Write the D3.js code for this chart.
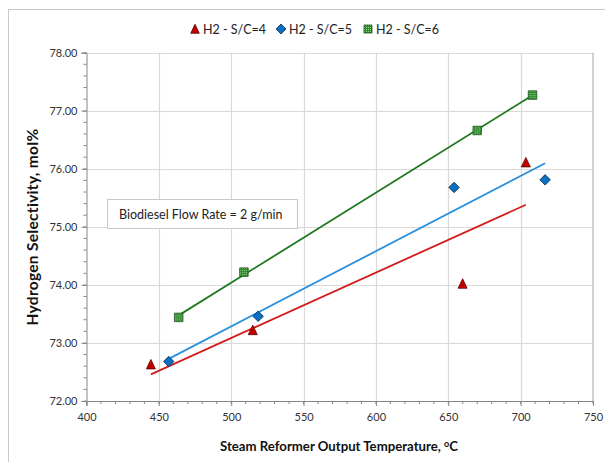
<!DOCTYPE html>
<html><head><meta charset="utf-8">
<script src="https://cdn.jsdelivr.net/npm/d3@7"></script>
<style>
html,body{margin:0;padding:0;background:#fff;}
svg{display:block;font-family:Lato,"Open Sans",sans-serif;}
</style></head>
<body>
<svg id="chart" width="605" height="462"></svg>
<script>
// ---- data ----
const seriesNames = ["H2 - S/C=4", "H2 - S/C=5", "H2 - S/C=6"];
const tempSC4 = [444.5, 514.9, 659.9, 703.6];
const selSC4  = [72.63, 73.22, 74.02, 76.11];
const tempSC5 = [456.8, 518.6, 654.0, 716.9];
const selSC5  = [72.68, 73.46, 75.68, 75.81];
const tempSC6 = [463.7, 508.8, 670.0, 708.2];
const selSC6  = [73.44, 74.22, 76.66, 77.27];
const xTicks = [400, 450, 500, 550, 600, 650, 700, 750];
const yTicks = [72, 73, 74, 75, 76, 77, 78];
const annotation = "Biodiesel Flow Rate = 2 g/min";
const xTitle = "Steam Reformer Output Temperature, ";
const yTitle = "Hydrogen Selectivity, mol%";

const svg = d3.select("#chart");
const x = d3.scaleLinear().domain([400, 750]).range([86.5, 593]);
const y = d3.scaleLinear().domain([72, 78]).range([401, 52.7]);

// pattern for green squares
const defs = svg.append("defs");
const pat = defs.append("pattern").attr("id","grid").attr("patternUnits","userSpaceOnUse")
  .attr("width",2).attr("height",2);
pat.append("rect").attr("width",2).attr("height",2).attr("fill","#2e8b2e");
pat.append("rect").attr("width",1).attr("height",1).attr("fill","#8fd27a");

// outer frame
svg.append("rect").attr("x",8.5).attr("y",9.5).attr("width",700).attr("height",600)
  .attr("fill","none").attr("stroke","#c8c8c8");

// gridlines
const g = svg.append("g");
g.selectAll(".vg").data(xTicks.slice(1,-1)).join("line")
  .attr("x1",d=>Math.round(x(d))+0.5).attr("x2",d=>Math.round(x(d))+0.5)
  .attr("y1",y(78)).attr("y2",y(72)).attr("stroke","#d9d9d9").attr("stroke-width",1.2);
g.selectAll(".hg").data(yTicks.slice(1)).join("line")
  .attr("y1",d=>Math.round(y(d))+0.5).attr("y2",d=>Math.round(y(d))+0.5)
  .attr("x1",x(400)).attr("x2",x(750)).attr("stroke","#d9d9d9").attr("stroke-width",1.2);
// plot border right
svg.append("line").attr("x1",x(750)).attr("x2",x(750)).attr("y1",y(78)).attr("y2",y(72)).attr("stroke","#a6a6a6");

// axes
const yAxis = d3.axisLeft(y).tickValues(yTicks).tickFormat(d3.format(".2f")).tickSize(5).tickPadding(4);
const yAx = svg.append("g").attr("transform",`translate(${x(400)},0)`).call(yAxis);
const yMinor = d3.range(72, 78.001, 0.2);
yAx.selectAll(".minor").data(yMinor).join("line").attr("class","minor")
  .attr("x1",-3).attr("x2",0).attr("y1",d=>y(d)).attr("y2",d=>y(d)).attr("stroke","#868686");
const xAxis = d3.axisBottom(x).tickValues(xTicks).tickSize(5).tickPadding(7);
const xAx = svg.append("g").attr("transform",`translate(0,${y(72)})`).call(xAxis);
const xMinor = d3.range(400, 750.001, 10);
xAx.selectAll(".minor").data(xMinor).join("line").attr("class","minor")
  .attr("y1",0).attr("y2",3).attr("x1",d=>x(d)).attr("x2",d=>x(d)).attr("stroke","#868686");
[yAx, xAx].forEach(a=>{
  a.select(".domain").attr("stroke","#868686");
  a.selectAll(".tick line").attr("stroke","#868686");
  a.selectAll("text").attr("font-family","Lato, sans-serif").attr("font-size",11).attr("fill","#333");
});

// trendlines (least squares fit through each series)
function fit(xs, ys){
  const mx=d3.mean(xs), my=d3.mean(ys);
  const b=d3.sum(xs,(v,i)=>(v-mx)*(ys[i]-my))/d3.sum(xs,v=>(v-mx)*(v-mx));
  const a=my-b*mx;
  const x0=d3.min(xs), x1=d3.max(xs);
  return [[x0,a+b*x0],[x1,a+b*x1]];
}
const series = [
  {xs:tempSC4, ys:selSC4, line:"#d41a1a", fill:"#c00000", stroke:"#600000", shape:"tri", size:9},
  {xs:tempSC5, ys:selSC5, line:"#2890dc", fill:"#0a6fc0", stroke:"#0d2b4a", shape:"dia", size:10.5},
  {xs:tempSC6, ys:selSC6, line:"#1f7a1f", fill:"url(#grid)", stroke:"#1f4f1f", shape:"sq", size:8.5}
];
const lineGen = d3.line().x(d=>x(d[0])).y(d=>y(d[1]));
series.forEach(s=>{
  svg.append("path").attr("d",lineGen(fit(s.xs,s.ys))).attr("fill","none")
    .attr("stroke",s.line).attr("stroke-width",1.8);
});
function shapePath(shape, size){
  const h=size/2;
  if(shape==="tri") return `M0,${-h-0.5}L${h},${h}L${-h},${h}Z`;
  if(shape==="dia") return `M0,${-h}L${h},0L0,${h}L${-h},0Z`;
  return `M${-h},${-h}H${h}V${h}H${-h}Z`;
}
series.forEach(s=>{
  svg.append("g").selectAll("path").data(s.xs.map((v,i)=>[v,s.ys[i]])).join("path")
    .attr("transform",d=>`translate(${x(d[0])},${y(d[1])})`)
    .attr("d",shapePath(s.shape, s.size))
    .attr("fill",s.fill).attr("stroke",s.stroke).attr("stroke-width",0.8);
});

// legend
const legX = [195, 281, 368];
const leg = svg.append("g");
series.forEach((s,i)=>{
  leg.append("path").attr("transform",`translate(${legX[i]},29)`)
    .attr("d",shapePath(s.shape, s.size-0.5))
    .attr("fill",s.fill).attr("stroke",s.stroke).attr("stroke-width",0.8);
  leg.append("text").attr("x",legX[i]+8).attr("y",33.5).attr("font-size",12.5)
    .attr("fill","#222").text(seriesNames[i]);
});

// annotation box
svg.append("rect").attr("x",107.5).attr("y",199.5).attr("width",190).attr("height",29)
  .attr("fill","#fff").attr("stroke","#c8c8c8");
svg.append("text").attr("x",119).attr("y",219).attr("font-size",12.5).attr("fill","#222").text(annotation);

// axis titles
const xt = svg.append("text").attr("x",339).attr("y",451).attr("text-anchor","middle")
  .attr("font-size",13.2).attr("font-weight","bold").attr("fill","#111");
xt.append("tspan").text(xTitle);
xt.append("tspan").attr("dy",-4).attr("font-size",9).text("o");
xt.append("tspan").attr("dy",4).text("C");
svg.append("text").attr("transform","translate(37.5,227) rotate(-90)").attr("text-anchor","middle")
  .attr("font-size",15.5).attr("font-weight","bold").attr("letter-spacing",0.3).attr("fill","#111").text(yTitle);
</script>
</body></html>
